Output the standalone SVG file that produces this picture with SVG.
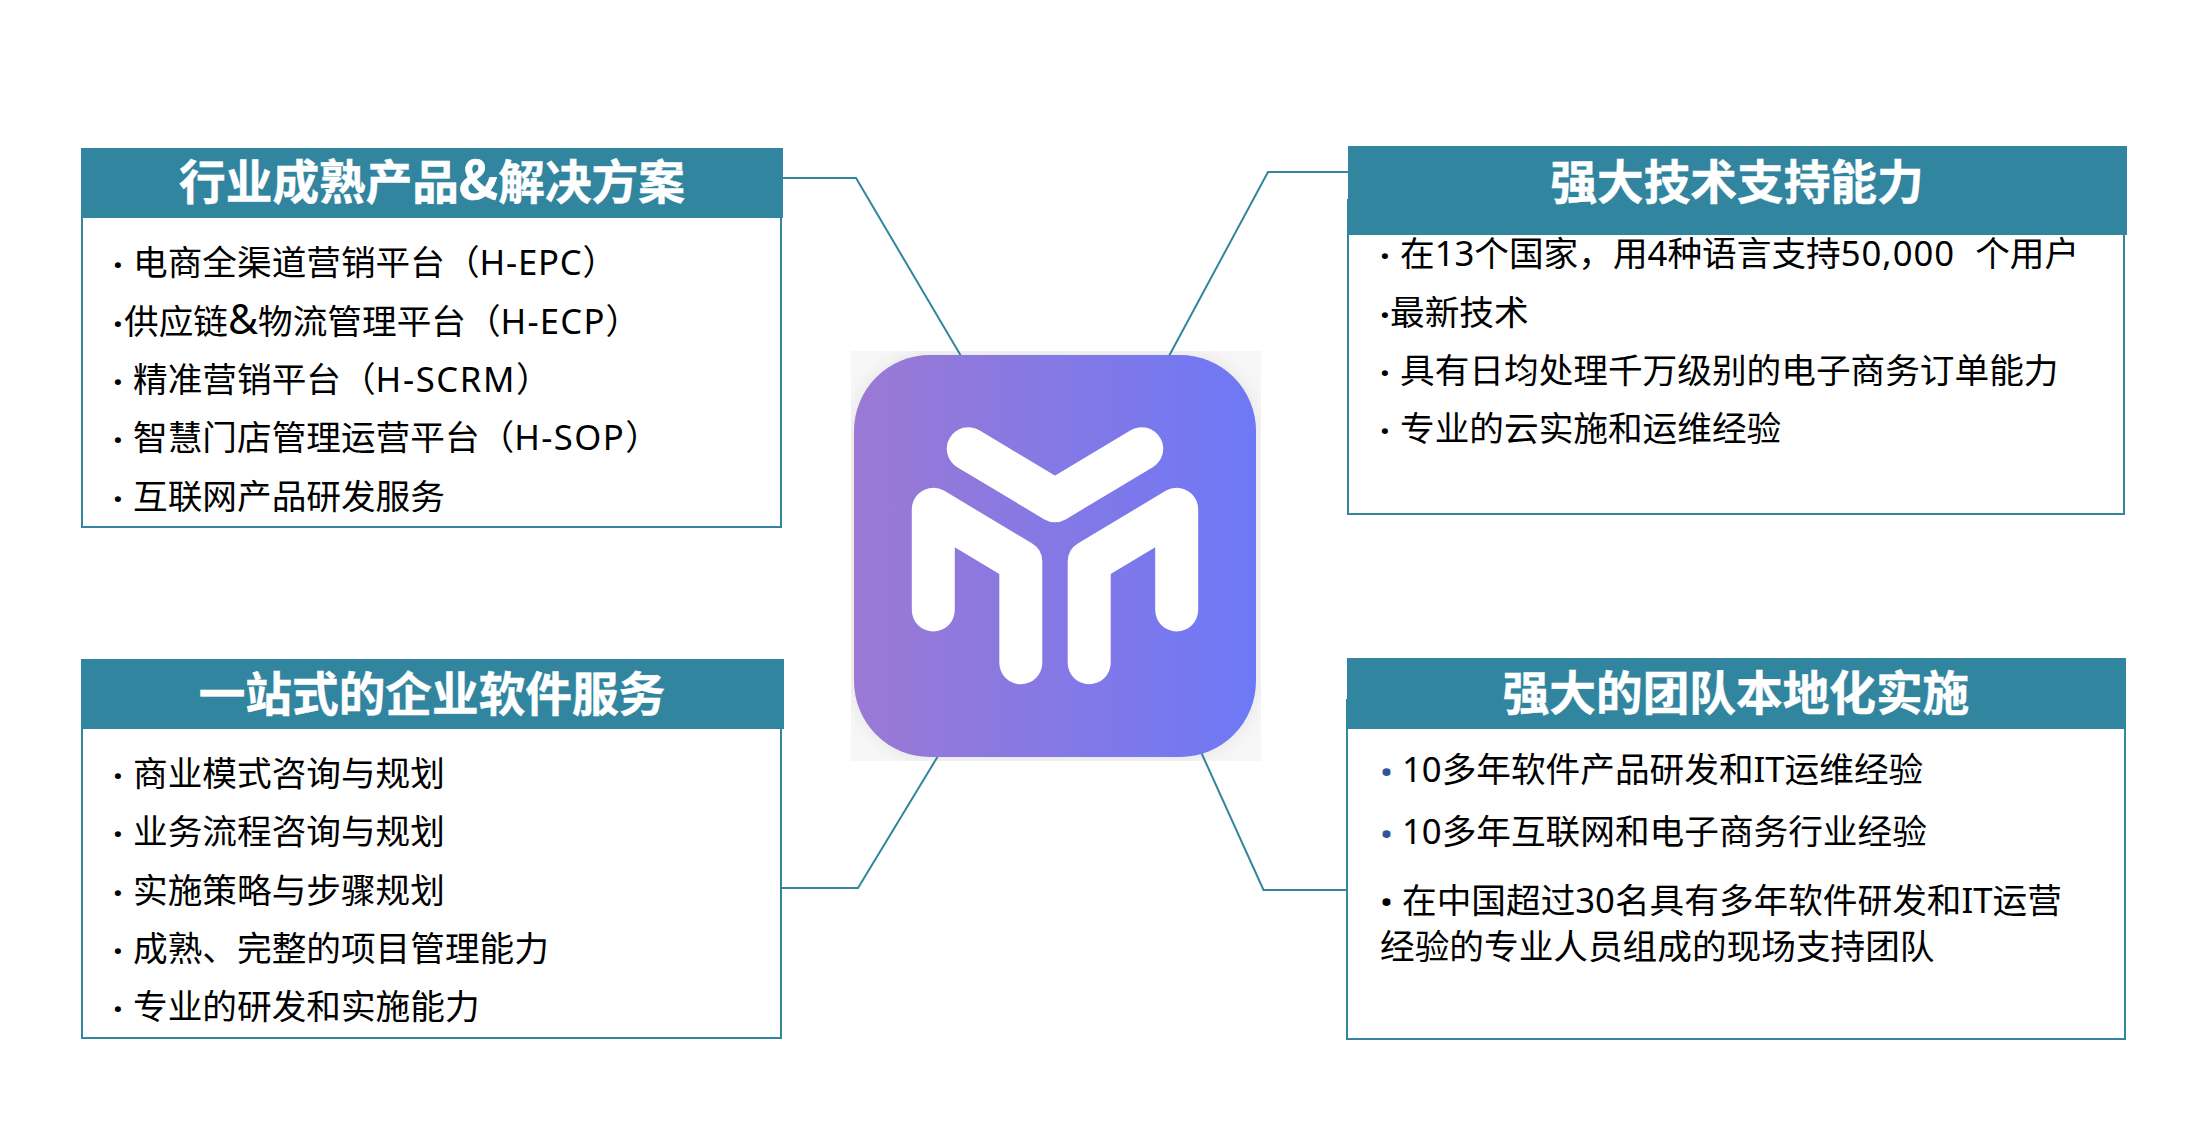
<svg xmlns="http://www.w3.org/2000/svg" width="2204" height="1125" viewBox="0 0 2204 1125">
<style>
text{font-family:"Noto Sans","Noto Sans CJK SC",sans-serif;fill:#000}
.b{font-size:34.67px}
.d{font-weight:700}
.t{font-size:46.67px;font-weight:700;fill:#fff;stroke:#fff;stroke-width:.5;text-anchor:middle;font-family:"Noto Sans CJK SC",sans-serif}
.body{fill:#fff;stroke:#33859e;stroke-width:2}
.head{fill:#32859f}
.conn{fill:none;stroke:#33859e;stroke-width:2}
.m{fill:none;stroke:#fff;stroke-width:43;stroke-linecap:round;stroke-linejoin:round}
.pre{white-space:pre}
.amp{font-size:41px}
.ampt{font-size:53px}
.big{font-size:46px;font-weight:700}
</style>
<defs>
<linearGradient id="lg" x1="0" x2="1" y1="0" y2="0"><stop offset="0" stop-color="#9b79d4"/><stop offset="1" stop-color="#6e78f6"/></linearGradient>
<filter id="gl" x="-20%" y="-20%" width="140%" height="140%"><feGaussianBlur stdDeviation="10"/></filter>
<clipPath id="cp"><rect x="851" y="351" width="410" height="410"/></clipPath>
</defs>
<rect width="2204" height="1125" fill="#fff"/>
<g id="logo-shadow" clip-path="url(#cp)">
<rect x="851" y="351" width="410" height="410" fill="#f7f7f7"/>
<rect x="856" y="357" width="398" height="398" rx="76" fill="#dcdcdc" filter="url(#gl)"/>
</g>
<g id="connectors">
<path class="conn" d="M783 178H856L961 356"/>
<path class="conn" d="M1169 356L1268 172H1348"/>
<path class="conn" d="M781 888H858L938 756"/>
<path class="conn" d="M1201 752L1263.500 890H1346"/>
</g>
<g id="logo">
<rect x="854" y="355" width="402" height="402" rx="76" fill="url(#lg)"/>
<path class="m" d="M968.300 448.700L1055 500.700L1141.700 448.700"/>
<path class="m" d="M933.300 610V509.300L1020.800 561.700V662.700"/>
<path class="m" d="M1176.700 610V509.300L1089.200 561.700V662.700"/>
</g>
<g id="node-products">
<rect class="body" x="82" y="200" width="699" height="327"/>
<rect class="head" x="81" y="148" width="702" height="70"/>
<text class="t" x="432" y="199">行业成熟产品<tspan class="ampt">&amp;</tspan>解决方案</text>
<text class="b" x="113" y="275"><tspan class="d" dy="2">·</tspan> <tspan x="133" dy="-2">电商全渠道营销平台（<tspan letter-spacing=".8">H-EPC</tspan>）</tspan></text>
<text class="b" x="113" y="334"><tspan class="d" dy="2">·</tspan><tspan x="124" dy="-2">供应链<tspan class="amp">&amp;</tspan>物流管理平台（<tspan letter-spacing="1.200">H-ECP</tspan>）</tspan></text>
<text class="b" x="113" y="392"><tspan class="d" dy="2">·</tspan> <tspan x="133" dy="-2">精准营销平台（<tspan letter-spacing="1.600">H-SCRM</tspan>）</tspan></text>
<text class="b" x="113" y="450"><tspan class="d" dy="2">·</tspan> <tspan x="133" dy="-2">智慧门店管理运营平台（<tspan letter-spacing="1.400">H-SOP</tspan>）</tspan></text>
<text class="b" x="113" y="509"><tspan class="d" dy="2">·</tspan> <tspan x="133" dy="-2">互联网产品研发服务</tspan></text>
</g>
<g id="node-tech">
<rect class="body" x="1348" y="200" width="776" height="314"/>
<rect class="head" x="1348" y="146" width="779" height="89"/>
<text class="t" x="1737" y="199">强大技术支持能力</text>
<text class="b pre" x="1380" y="266"><tspan class="d" dy="2">·</tspan> <tspan x="1400" dy="-2">在13个国家，用4种语言支持<tspan letter-spacing="1">50,000  </tspan>个用户</tspan></text>
<text class="b" x="1380" y="325"><tspan class="d" dy="2">·</tspan><tspan x="1390" dy="-2">最新技术</tspan></text>
<text class="b" x="1380" y="383"><tspan class="d" dy="2">·</tspan> <tspan x="1400" dy="-2">具有日均处理千万级别的电子商务订单能力</tspan></text>
<text class="b" x="1380" y="441"><tspan class="d" dy="2">·</tspan> <tspan x="1400" dy="-2">专业的云实施和运维经验</tspan></text>
</g>
<g id="node-services">
<rect class="body" x="82" y="700" width="699" height="338"/>
<rect class="head" x="81" y="659" width="703" height="70"/>
<text class="t" x="432" y="711">一站式的企业软件服务</text>
<text class="b" x="113" y="786"><tspan class="d" dy="2">·</tspan> <tspan x="133" dy="-2">商业模式咨询与规划</tspan></text>
<text class="b" x="113" y="844"><tspan class="d" dy="2">·</tspan> <tspan x="133" dy="-2">业务流程咨询与规划</tspan></text>
<text class="b" x="113" y="903"><tspan class="d" dy="2">·</tspan> <tspan x="133" dy="-2">实施策略与步骤规划</tspan></text>
<text class="b" x="113" y="961"><tspan class="d" dy="2">·</tspan> <tspan x="133" dy="-2">成熟、完整的项目管理能力</tspan></text>
<text class="b" x="113" y="1019"><tspan class="d" dy="2">·</tspan> <tspan x="133" dy="-2">专业的研发和实施能力</tspan></text>
</g>
<g id="node-team">
<rect class="body" x="1347" y="700" width="778" height="339"/>
<rect class="head" x="1347" y="658" width="779" height="71"/>
<text class="t" x="1736" y="710">强大的团队本地化实施</text>
<text class="b" x="1380" y="782"><tspan class="big" fill="#2f5597" y="789">·</tspan> <tspan x="1402" y="782">10多年软件产品研发和IT运维经验</tspan></text>
<text class="b" x="1380" y="844"><tspan class="big" fill="#2f5597" y="851">·</tspan> <tspan x="1402" y="844">10多年互联网和电子商务行业经验</tspan></text>
<text class="b" x="1380" y="913"><tspan class="big" y="919">·</tspan> <tspan x="1402" y="913">在中国超过30名具有多年软件研发和IT运营</tspan></text>
<text class="b" x="1380" y="959">经验的专业人员组成的现场支持团队</text>
</g>
</svg>
